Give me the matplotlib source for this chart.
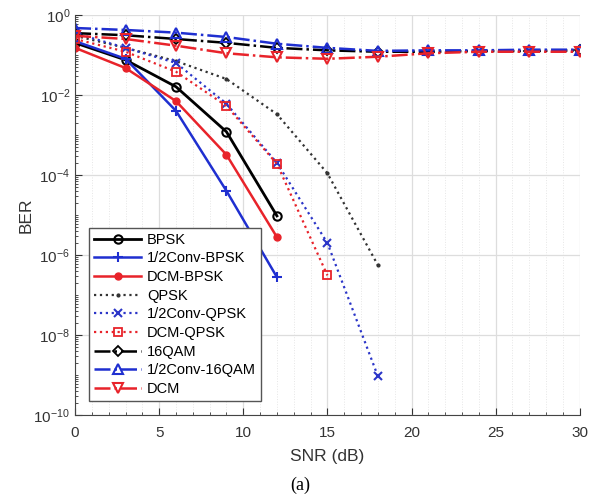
import matplotlib
matplotlib.use("Agg")
import matplotlib.pyplot as plt
import matplotlib.ticker as mticker

plt.rcParams["font.family"] = ["Liberation Sans", "DejaVu Sans"]

snr_short = [0, 3, 6, 9, 12]
snr_15 = [0, 3, 6, 9, 12, 15]
snr_18 = [0, 3, 6, 9, 12, 15, 18]
snr_full = [0, 3, 6, 9, 12, 15, 18, 21, 24, 27, 30]

ber_bpsk = [0.2, 0.075, 0.016, 1.2e-3, 9.5e-6]
ber_conv_bpsk = [0.22, 0.08, 4e-3, 4e-5, 2.8e-7]
ber_dcm_bpsk = [0.15, 0.047, 7e-3, 3.2e-4, 2.8e-6]
ber_qpsk = [0.3, 0.15, 0.07, 0.025, 3.3e-3, 1.1e-4, 5.6e-7]
ber_conv_qpsk = [0.35, 0.15, 0.063, 6e-3, 2e-4, 2e-6, 9.4e-10]
ber_dcm_qpsk = [0.25, 0.12, 0.038, 5.3e-3, 1.9e-4, 3.1e-7]
ber_16qam = [0.35, 0.31, 0.25, 0.2, 0.15, 0.13, 0.12, 0.12, 0.125, 0.125, 0.13]
ber_conv_16qam = [0.47, 0.42, 0.36, 0.28, 0.19, 0.15, 0.126, 0.13, 0.13, 0.135, 0.135]
ber_dcm = [0.3, 0.25, 0.17, 0.11, 0.087, 0.08, 0.09, 0.11, 0.12, 0.12, 0.12]

fig = plt.figure(figsize=(5.91, 4.96), dpi=100)
ax = fig.add_axes([0.127, 0.163, 0.854, 0.807])

ax.semilogy(snr_short, ber_bpsk, "-o", color="black", lw=2, ms=6, mfc="none", mew=1.5, label="BPSK")
ax.semilogy(snr_short, ber_conv_bpsk, "-+", color="#1f2fd0", lw=1.8, ms=7, mew=1.5, label="1/2Conv-BPSK")
ax.semilogy(snr_short, ber_dcm_bpsk, "-o", color="#e8232a", lw=1.8, ms=5, label="DCM-BPSK")
ax.semilogy(snr_18, ber_qpsk, ":.", color="#333333", lw=1.6, ms=4, label="QPSK")
ax.semilogy(snr_18, ber_conv_qpsk, ":x", color="#2b35c8", lw=1.6, ms=6, mew=1.5, label="1/2Conv-QPSK")
ax.semilogy(snr_15, ber_dcm_qpsk, ":s", color="#e8232a", lw=1.6, ms=6, mfc="none", mew=1.3, label="DCM-QPSK")
ax.semilogy(snr_full, ber_16qam, "-.D", color="black", lw=1.8, ms=5, mfc="none", mew=1.3, label="16QAM")
ax.semilogy(snr_full, ber_conv_16qam, "-.^", color="#1f2fd0", lw=1.8, ms=7, mfc="none", mew=1.5, label="1/2Conv-16QAM")
ax.semilogy(snr_full, ber_dcm, "-.v", color="#e8232a", lw=1.8, ms=7, mfc="none", mew=1.5, label="DCM")

ax.set_xlim(0, 30)
ax.set_ylim(1e-10, 1)
ax.set_xticks(range(0, 31, 5))
ax.xaxis.set_minor_locator(mticker.MultipleLocator(1))
ax.set_yticks([1e0, 1e-2, 1e-4, 1e-6, 1e-8, 1e-10])
ax.yaxis.set_minor_locator(mticker.LogLocator(base=10, subs=range(1, 10), numticks=30))
ax.yaxis.set_minor_formatter(mticker.NullFormatter())
ax.tick_params(which="both", direction="in", labelsize=11, colors="#333333")
ax.tick_params(which="major", length=5)
ax.tick_params(which="minor", length=2.5)
ax.tick_params(axis="x", pad=8)

ax.grid(which="major", color="#dddddd", lw=0.9)
ax.grid(which="minor", axis="x", color="#e6e6e6", lw=0.7, ls=":")
for s in ax.spines.values():
    s.set_color("#444444")
ax.spines["top"].set_visible(False)
ax.spines["right"].set_visible(False)

ax.set_ylabel("BER", fontsize=12.5, color="#333333", labelpad=0)
ax.set_xlabel("SNR (dB)", fontsize=12.5, color="#333333", labelpad=6)

leg = ax.legend(loc="lower left", bbox_to_anchor=(0.028, 0.035), fontsize=10.5,
                fancybox=False, framealpha=1, edgecolor="#555555",
                handlelength=3.2, labelspacing=0.32, borderpad=0.35, handletextpad=0.4,
                borderaxespad=0)
leg.get_frame().set_linewidth(1.0)

fig.text(0.508, 0.022, "(a)", ha="center", va="center", fontsize=13,
         family=["Liberation Serif", "DejaVu Serif"])

fig.savefig("out.png", dpi=100)
